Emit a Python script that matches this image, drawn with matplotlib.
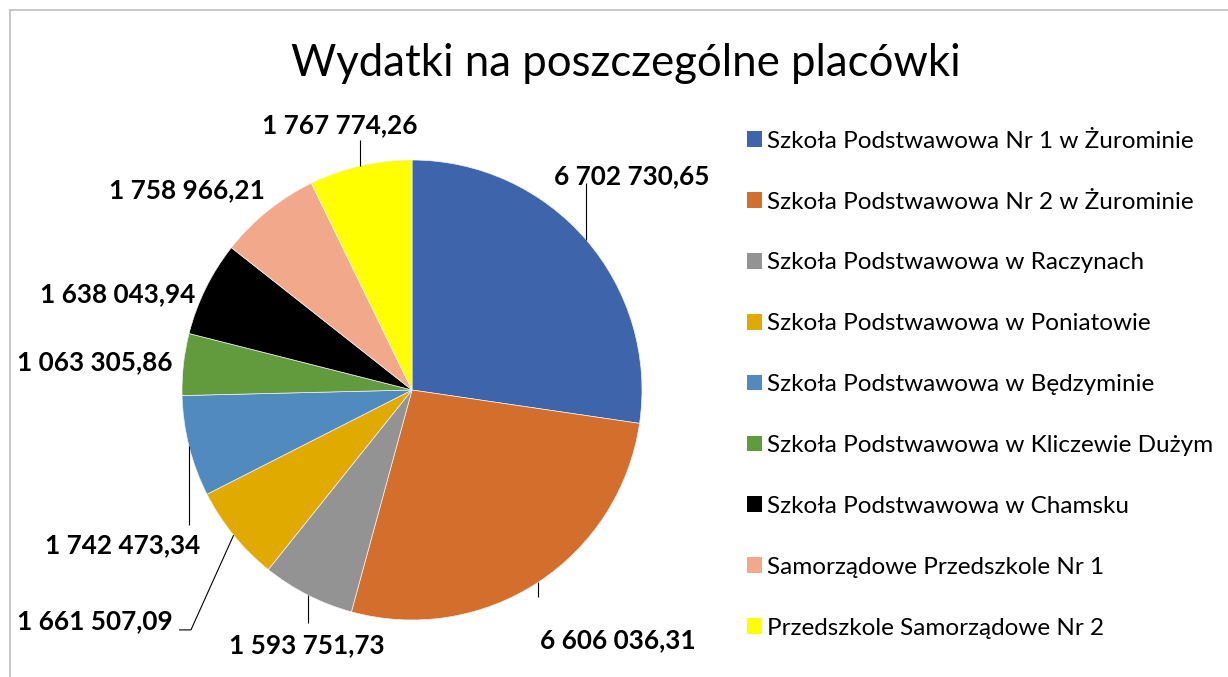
import numpy as np
import matplotlib
matplotlib.use("Agg")
import matplotlib.pyplot as plt
from matplotlib.patches import Patch
from matplotlib.lines import Line2D

plt.rcParams['font.family'] = ['Lato', 'DejaVu Sans']

# data
names = [
    "Szkoła Podstwawowa Nr 1 w Żurominie",
    "Szkoła Podstwawowa Nr 2 w Żurominie",
    "Szkoła Podstwawowa w Raczynach",
    "Szkoła Podstwawowa w Poniatowie",
    "Szkoła Podstwawowa w Będzyminie",
    "Szkoła Podstwawowa w Kliczewie Dużym",
    "Szkoła Podstwawowa w Chamsku",
    "Samorządowe Przedszkole Nr 1",
    "Przedszkole Samorządowe Nr 2",
]
values = [6702730.65, 6606036.31, 1593751.73, 1661507.09, 1742473.34,
          1063305.86, 1638043.94, 1758966.21, 1767774.26]

colors = ["#3E64AC", "#D36E2C", "#939393", "#E1AA00", "#508ABE",
          "#629A3E", "#000000", "#F1A88B", "#FFFF00"]

# label centres (pie radius = 1) and leader line points after the edge point
label_pos = [(0.957, 0.930), (0.896, -1.087), (-0.457, -1.109), (-1.378, -1.004),
             (-1.257, -0.674), (-1.378, 0.122), (-1.278, 0.417), (-0.978, 0.870),
             (-0.313, 1.152)]
leaders = [[None, 0.90], [None, -0.90], [None, -1.013],
           [(-0.961, -1.043), (-1.013, -1.043)],
           [None, -0.587], None, None, None, [None, 1.087]]


def fmt(v):
    s = f"{v:,.2f}"
    return s.replace(",", " ").replace(".", ",")


W, H = 1228, 677
fig = plt.figure(figsize=(W / 100, H / 100), dpi=100)

# pie axes: centre at pixel (412, 390), radius 230 px
R = 230.0
cx, cy = 412.0, 390.0
ax = fig.add_axes([0, 0, 720 / W, 577 / H])

wedges, _ = ax.pie(values, colors=colors, startangle=90, counterclock=False,
                   radius=1.0, center=(0, 0), frame=True,
                   wedgeprops=dict(linewidth=0.5, edgecolor='#F2F2F2'))
ax.set_xlim((0 - cx) / R, (720 - cx) / R)
ax.set_ylim((cy - 677) / R, (cy - 100) / R)
ax.axis('off')

for w, v, pos, ld in zip(wedges, values, label_pos, leaders):
    ax.text(pos[0], pos[1], fmt(v), ha='center', va='center',
            fontsize=18.8, fontweight='bold', color='black')
    if ld is None:
        continue
    mid = np.deg2rad((w.theta1 + w.theta2) / 2)
    ex, ey = np.cos(mid), np.sin(mid)
    xs, ys = [ex], [ey]
    if ld[0] is None:
        xs.append(ex)
        ys.append(ld[1])
    else:
        for p in ld:
            xs.append(p[0])
            ys.append(p[1])
    ax.plot(xs, ys, color='black', lw=0.8, solid_capstyle='butt')

fig.text(626 / W, 1 - 63 / H, "Wydatki na poszczególne placówki",
         ha='center', va='center', fontsize=31.5)

handles = [Patch(facecolor=c, edgecolor='none') for c in colors]
fig.legend(handles, names, loc='upper left', bbox_to_anchor=(737 / W, 1 - 121 / H),
           frameon=False, fontsize=17.5, handlelength=0.62, handleheight=0.62,
           handletextpad=0.22, labelspacing=1.64, borderaxespad=0)

# chart area border
fig.add_artist(Line2D([10 / W, 10 / W], [0, 1 - 10 / H], color='#BFBFBF', lw=1.2))
fig.add_artist(Line2D([10 / W, 1], [1 - 10 / H, 1 - 10 / H], color='#BFBFBF', lw=1.2))

fig.savefig("out.png", dpi=100)
